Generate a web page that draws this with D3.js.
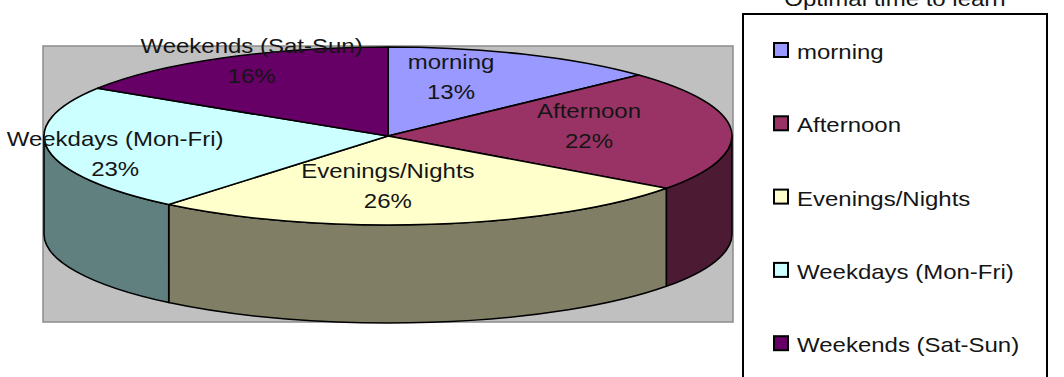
<!DOCTYPE html>
<html>
<head>
<meta charset="utf-8">
<script src="https://cdn.jsdelivr.net/npm/d3@7"></script>
<style>
  body { margin: 0; background: #ffffff; }
  text { font-family: "Liberation Sans", Arial, sans-serif; fill: #151515; }
</style>
</head>
<body>
<svg id="chart" width="1064" height="377"></svg>
<script>
// data
var categories = ["morning", "Afternoon", "Evenings/Nights", "Weekdays (Mon-Fri)", "Weekends (Sat-Sun)"];
var values = [13, 22, 26, 23, 16];
var chartTitle = "Optimal time to learn";

// excel 97 palette, side walls are the top colour at half brightness
var topColors = ["#9999FF", "#993366", "#FFFFCC", "#CCFFFF", "#660066"];
var sideColors = ["#4d4d80", "#4d1a33", "#807f66", "#608080", "#330033"];

// label nudges from the 0.6 radius point (excel "best fit" is not radial)
var labelShift = [[-19, -11], [-5, -8], [-26, -4], [-69, 9], [-37, -29]];

var svg = d3.select("#chart");
var sx = 1.2; // picture is stretched horizontally
var fs = "20px";

// plot area
var plot = {x: 43, y: 46, w: 690, h: 276};
svg.append("rect")
    .attr("x", plot.x)
    .attr("y", plot.y)
    .attr("width", plot.w)
    .attr("height", plot.h)
    .attr("fill", "#c0c0c0")
    .attr("stroke", "#8c8c8c")
    .attr("stroke-width", 1.5);

var cx = 388, cy = 136, rx = 344, ry = 89, depth = 98;

function pt(a, dy){
    return [cx + rx * Math.sin(a), cy - ry * Math.cos(a) + (dy || 0)];
}

var pie = d3.pie().sort(null).value(function(d){ return d; });
var arcs = pie(values);

// outer walls (only the front half is visible)
var sides = svg.append("g");
arcs.forEach(function(d, i){
    var s = Math.max(d.startAngle, Math.PI / 2);
    var e = Math.min(d.endAngle, Math.PI * 3 / 2);
    if (s >= e) return;
    var p0 = pt(s), p1 = pt(e), p2 = pt(e, depth), p3 = pt(s, depth);
    var path = "M" + p0 + " A" + rx + "," + ry + " 0 0 1 " + p1 +
               " L" + p2 + " A" + rx + "," + ry + " 0 0 0 " + p3 + " Z";
    sides.append("path")
        .attr("d", path)
        .attr("fill", sideColors[i])
        .attr("stroke", "#000")
        .attr("stroke-width", 1.6)
        .attr("stroke-linejoin", "round");
});

// top faces
var tops = svg.append("g");
arcs.forEach(function(d, i){
    var p0 = pt(d.startAngle), p1 = pt(d.endAngle);
    var large = (d.endAngle - d.startAngle) > Math.PI ? 1 : 0;
    var path = "M" + cx + "," + cy + " L" + p0 + " A" + rx + "," + ry + " 0 " + large + " 1 " + p1 + " Z";
    tops.append("path")
        .attr("d", path)
        .attr("fill", topColors[i])
        .attr("stroke", "#000")
        .attr("stroke-width", 1.6)
        .attr("stroke-linejoin", "round");
});

// data labels
var total = d3.sum(values);
var labels = svg.append("g");
arcs.forEach(function(d, i){
    var m = (d.startAngle + d.endAngle) / 2;
    var c = [cx + 0.6 * rx * Math.sin(m), cy - 0.6 * ry * Math.cos(m)];
    var x = c[0] + labelShift[i][0], y = c[1] + labelShift[i][1];
    var g = labels.append("g").attr("transform", "translate(" + x + "," + y + ")");
    g.append("text")
        .attr("transform", "translate(0,-7) scale(" + sx + ",1)")
        .attr("text-anchor", "middle")
        .attr("font-size", fs)
        .text(categories[i]);
    g.append("text")
        .attr("transform", "translate(0,23) scale(" + sx + ",1)")
        .attr("text-anchor", "middle")
        .attr("font-size", fs)
        .text(Math.round(values[i] / total * 100) + "%");
});

// legend
var legend = svg.append("g");
legend.append("rect")
    .attr("x", 743)
    .attr("y", 14)
    .attr("width", 304)
    .attr("height", 420)
    .attr("fill", "#fff")
    .attr("stroke", "#000")
    .attr("stroke-width", 2);

legend.append("text")
    .attr("transform", "translate(895,6) scale(" + sx + ",1)")
    .attr("text-anchor", "middle")
    .attr("font-size", fs)
    .text(chartTitle);

var ly = d3.scaleBand()
    .domain(categories)
    .range([42, 42 + 73.3 * categories.length]);

var items = legend.selectAll(".item")
    .data(categories)
    .enter()
    .append("g")
    .attr("class", "item")
    .attr("transform", function(d){ return "translate(774," + ly(d) + ")"; });

items.append("rect")
    .attr("x", 0)
    .attr("y", 1)
    .attr("width", 14)
    .attr("height", 14)
    .attr("fill", function(d, i){ return topColors[i]; })
    .attr("stroke", "#000")
    .attr("stroke-width", 2);

items.append("text")
    .attr("transform", "translate(23,17) scale(" + sx + ",1)")
    .attr("font-size", fs)
    .text(function(d){ return d; });
</script>
</body>
</html>
